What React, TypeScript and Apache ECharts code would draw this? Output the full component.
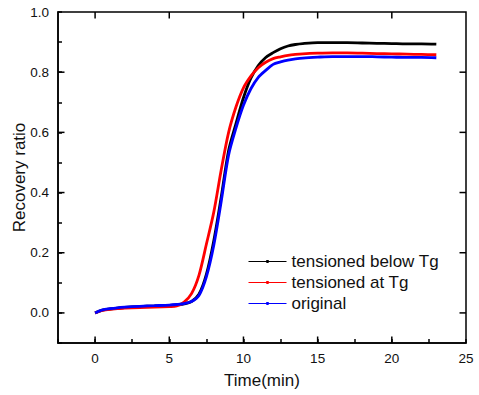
import React, { useEffect, useRef } from "react";
import * as echarts from "echarts";

const times = [0, 0.5, 1, 1.5, 2, 3, 4, 5, 5.5, 6, 6.5, 7, 7.5, 8, 8.5, 9, 9.5, 10, 10.5, 11, 11.5, 12, 12.5, 13, 13.5, 14, 15, 16, 17, 18, 19, 20, 21, 22, 23];

const belowTg = [0, 0.009, 0.013, 0.016, 0.018, 0.021, 0.023, 0.025, 0.027, 0.03, 0.038, 0.062, 0.128, 0.24, 0.385, 0.54, 0.63, 0.715, 0.78, 0.822, 0.849, 0.865, 0.878, 0.887, 0.892, 0.895, 0.898, 0.898, 0.898, 0.897, 0.896, 0.895, 0.894, 0.894, 0.893];

const atTg = [0, 0.008, 0.012, 0.014, 0.016, 0.018, 0.019, 0.021, 0.023, 0.036, 0.064, 0.125, 0.228, 0.335, 0.475, 0.6, 0.685, 0.748, 0.787, 0.815, 0.833, 0.845, 0.851, 0.856, 0.859, 0.861, 0.863, 0.864, 0.864, 0.863, 0.862, 0.861, 0.86, 0.859, 0.858];

const original = [0, 0.01, 0.014, 0.017, 0.019, 0.022, 0.024, 0.026, 0.028, 0.031, 0.038, 0.058, 0.12, 0.225, 0.37, 0.525, 0.615, 0.69, 0.745, 0.783, 0.806, 0.826, 0.834, 0.84, 0.844, 0.847, 0.85, 0.852, 0.852, 0.852, 0.851, 0.85, 0.849, 0.849, 0.848];

const seriesNames = ["tensioned below Tg", "tensioned at Tg", "original"];
const seriesColors = ["#000000", "#ff0000", "#0000ff"];

const xMajorTicks = [0, 5, 10, 15, 20];
const yMajorTicks = [0, 0.2, 0.4, 0.6, 0.8];

const FONT = "'Liberation Sans', Arial, sans-serif";
const X_MIN = -2.5;
const X_MAX = 25;
const Y_MIN = -0.1;
const Y_MAX = 1.0;

export default function App() {
  const ref = useRef<HTMLDivElement>(null);
  useEffect(() => {
    if (!ref.current) return;
    const chart = echarts.init(ref.current, undefined, { renderer: "svg" });
    const datasets = [belowTg, atTg, original];

    chart.setOption({
      animation: false,
      grid: {
        left: 58,
        right: 13,
        top: 12,
        bottom: 52,
        outerBoundsMode: "none",
        show: true,
        borderColor: "#000",
        borderWidth: 1.5,
        backgroundColor: "transparent",
      },
      xAxis: {
        type: "value",
        min: X_MIN,
        max: X_MAX,
        interval: 2.5,
        name: "Time(min)",
        nameLocation: "middle",
        nameGap: 29,
        nameMoveOverlap: false,
        nameTextStyle: { fontFamily: FONT, fontSize: 17, color: "#111" },
        axisLine: { show: true, onZero: false, lineStyle: { color: "#000", width: 1.5 } },
        axisTick: { show: true, inside: true, length: 4, lineStyle: { color: "#000", width: 1.5 } },
        axisLabel: {
          margin: 8,
          fontFamily: FONT,
          fontSize: 13.5,
          color: "#111",
          formatter: (v: number) => (v >= 0 && Math.abs(v / 5 - Math.round(v / 5)) < 1e-6 ? String(Math.round(v)) : ""),
        },
        splitLine: { show: false },
      },
      yAxis: {
        type: "value",
        min: Y_MIN,
        max: Y_MAX,
        interval: 0.1,
        name: "Recovery ratio",
        nameLocation: "middle",
        nameGap: 30,
        nameMoveOverlap: false,
        nameTextStyle: { fontFamily: FONT, fontSize: 17, color: "#111" },
        axisLine: { show: true, onZero: false, lineStyle: { color: "#000", width: 1.5 } },
        axisTick: { show: true, inside: true, length: 4, lineStyle: { color: "#000", width: 1.5 } },
        axisLabel: {
          margin: 9,
          fontFamily: FONT,
          fontSize: 13.5,
          color: "#111",
          formatter: (v: number) => {
            const k = Math.round(v * 10);
            return k >= 0 && k % 2 === 0 ? v.toFixed(1) : "";
          },
        },
        splitLine: { show: false },
      },
      legend: {
        data: seriesNames,
        orient: "vertical",
        left: 248,
        top: 253,
        padding: 0,
        itemWidth: 38,
        itemHeight: 4,
        itemGap: 4,
        lineStyle: { width: 1 },
        textStyle: { fontFamily: FONT, fontSize: 17, lineHeight: 17, color: "#111" },
      },
      series: seriesNames.map((name, i) => ({
        name,
        type: "line",
        data: times.map((t, j) => [t, datasets[i][j]]),
        smooth: 0.3,
        symbol: "circle",
        showSymbol: false,
        color: seriesColors[i],
        lineStyle: { color: seriesColors[i], width: 2.8 },
        itemStyle: { color: seriesColors[i] },
      })),
    });

    // Longer major ticks on all four sides, placed through the chart's scales
    const toPx = (x: number, y: number) => chart.convertToPixel({ xAxisIndex: 0, yAxisIndex: 0 }, [x, y]) as number[];
    const lb = toPx(X_MIN, Y_MIN);
    const rt = toPx(X_MAX, Y_MAX);
    const w = 1.5;
    const graphics: any[] = [];
    xMajorTicks.forEach((v) => {
      const px = toPx(v, 0.5)[0];
      graphics.push({ type: "rect", shape: { x: px - w / 2, y: lb[1] - 6.5, width: w, height: 6.5 }, style: { fill: "#000" } });
      graphics.push({ type: "rect", shape: { x: px - w / 2, y: rt[1], width: w, height: 6.5 }, style: { fill: "#000" } });
    });
    yMajorTicks.forEach((v) => {
      const py = toPx(10, v)[1];
      graphics.push({ type: "rect", shape: { x: lb[0], y: py - w / 2, width: 6.5, height: w }, style: { fill: "#000" } });
      graphics.push({ type: "rect", shape: { x: rt[0] - 6.5, y: py - w / 2, width: 6.5, height: w }, style: { fill: "#000" } });
    });
    chart.setOption({ graphic: graphics });

    return () => chart.dispose();
  }, []);
  return <div ref={ref} style={{ position: "fixed", left: 0, top: 0, width: 479, height: 395, background: "#fff" }} />;
}
